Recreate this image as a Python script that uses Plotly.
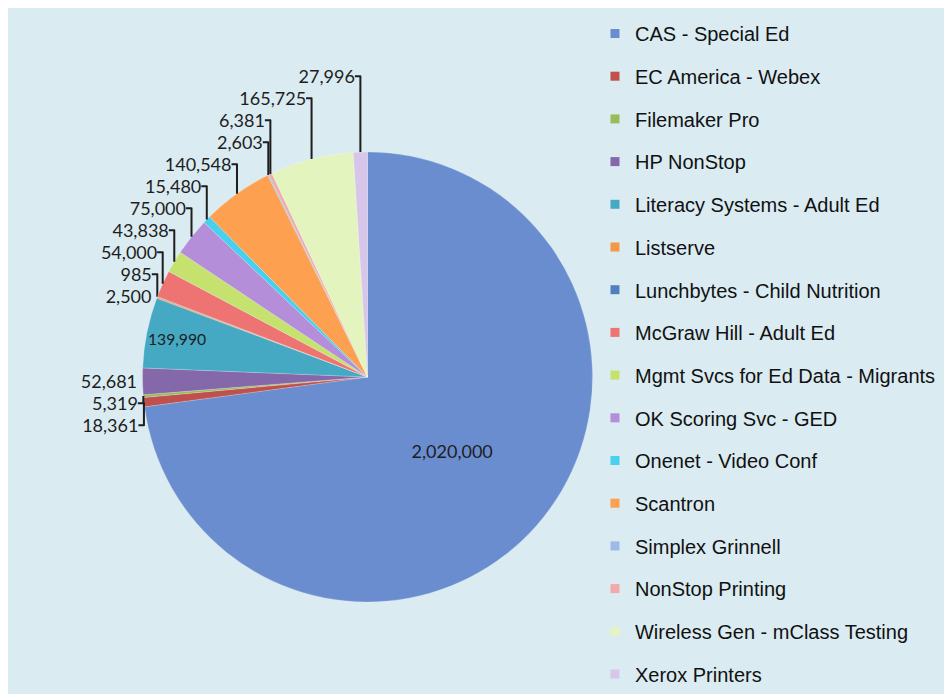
import plotly.graph_objects as go

vendors = [
    "CAS - Special Ed", "EC America - Webex", "Filemaker Pro", "HP NonStop",
    "Literacy Systems - Adult Ed", "Listserve", "Lunchbytes - Child Nutrition",
    "McGraw Hill - Adult Ed", "Mgmt Svcs for Ed Data - Migrants", "OK Scoring Svc - GED",
    "Onenet - Video Conf", "Scantron", "Simplex Grinnell", "NonStop Printing",
    "Wireless Gen - mClass Testing", "Xerox Printers",
]
amounts = [2020000, 18361, 5319, 52681, 139990, 2500, 985, 54000,
           43838, 75000, 15480, 140548, 2603, 6381, 165725, 27996]
colors = ["#6A8DCF", "#C0504D", "#9BBB59", "#8568AA", "#46A9C3", "#F79646",
          "#4F81BD", "#EE7373", "#C5E26E", "#B48ED9", "#48D0EE", "#FDA04F",
          "#9FB9E8", "#F2AAA8", "#E4F4BE", "#D8C6EA"]
text_pos = ["inside", "outside", "outside", "outside", "inside"] + ["outside"] * 11

W, H = 944, 686  # page body adds an 8px white margin top/left

fig = go.Figure()

fig.add_trace(go.Pie(
    labels=vendors, values=amounts, sort=False, direction="clockwise", rotation=0,
    marker=dict(colors=colors, line=dict(color="rgba(255,255,255,0.4)", width=0.5)),
    texttemplate="%{value:,}", textposition=text_pos, insidetextorientation="horizontal",
    textfont=dict(family="Lato, sans-serif", size=18, color="#1E1E1E"),
    domain=dict(x=[0.1425, 0.6192], y=[0.1341, 0.7901]),
    showlegend=False, hoverinfo="label+value+percent",
))

# legend entries (square swatches, one group per vendor so the row spacing can be set)
for name, c in zip(vendors, colors):
    fig.add_trace(go.Scatter(
        x=[None], y=[None], mode="markers", name=name, legendgroup=name,
        marker=dict(symbol="square", size=9, color=c),
    ))

fig.update_layout(
    width=W, height=H,
    margin=dict(l=0, r=0, t=0, b=0),
    paper_bgcolor="#DAEBF2", plot_bgcolor="rgba(0,0,0,0)",
    xaxis=dict(visible=False), yaxis=dict(visible=False),
    legend=dict(x=0.6218, y=0.989, xanchor="left", yanchor="top", tracegroupgap=13.7,
                font=dict(family="Liberation Sans, Arial, sans-serif", size=20, color="#111111"),
                bgcolor="rgba(0,0,0,0)"),
)

fig.write_html("out.html")
